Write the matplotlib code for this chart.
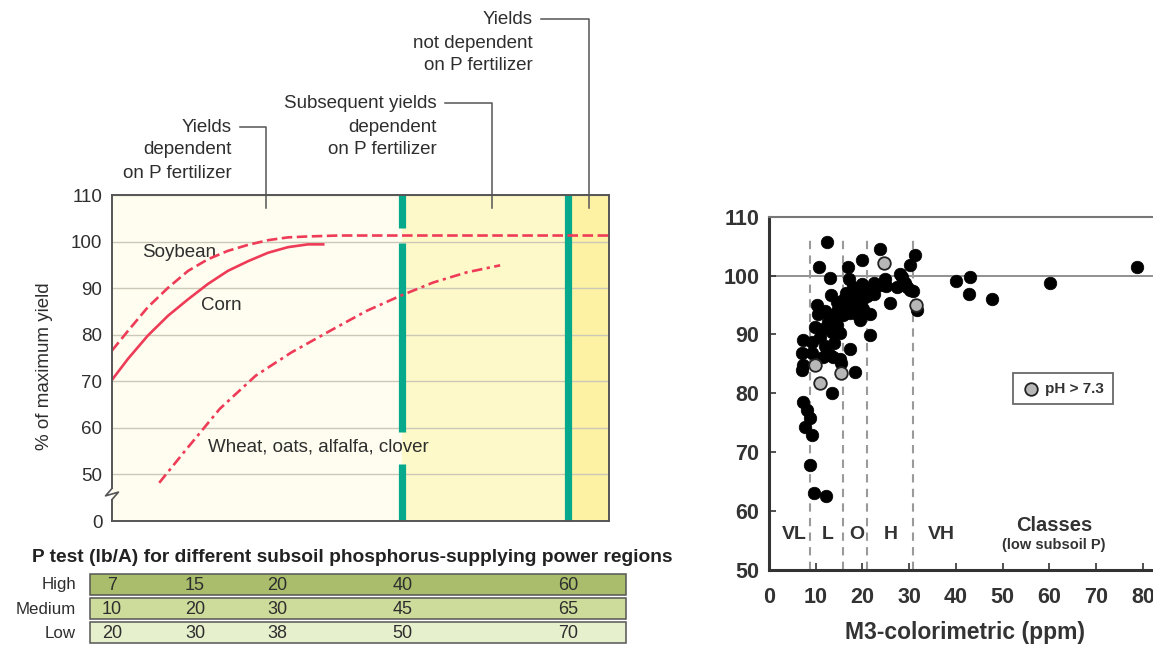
import numpy as np
import matplotlib.pyplot as plt
from matplotlib.patches import Rectangle
from matplotlib.lines import Line2D
from matplotlib.transforms import blended_transform_factory

plt.rcParams['font.family'] = ['Liberation Sans', 'DejaVu Sans']

# --- Left chart: yield response curves (x = relative P test, 0-100) ---
soy_x = [0, 3.2, 7.2, 11.3, 15.3, 19.3, 23.3, 27.4, 31.4, 35.4, 39.4, 45.5, 100]
soy_y = [76.6, 80.8, 85.9, 90.1, 93.7, 96.2, 98.0, 99.3, 100.3, 100.9, 101.1, 101.3, 101.3]

corn_x = [0, 3.2, 7.2, 11.3, 15.3, 19.3, 23.3, 27.4, 31.4, 35.4, 39.4, 42.5]
corn_y = [70.3, 74.8, 79.8, 84.1, 87.6, 90.9, 93.7, 95.8, 97.6, 98.8, 99.4, 99.4]

wheat_x = [9.5, 14.5, 21.7, 28.9, 36.1, 44.5, 51.2, 57.9, 64.6, 71.4, 78.1]
wheat_y = [48.2, 54.8, 64.1, 71.2, 76.2, 81.2, 85.1, 88.3, 91.2, 93.4, 94.9]

region_edges = [0, 58.4, 91.8, 100]
region_colors = ["#fffdef", "#fef9c9", "#fdf2a3"]

yticks_pos = [40, 50, 60, 70, 80, 90, 100, 110]     # 40 stands for the broken "0"
yticks_lab = ["0", "50", "60", "70", "80", "90", "100", "110"]

# --- P test table ---
table_rows = ["High", "Medium", "Low"]
table_vals = [[7, 15, 20, 40, 60],
              [10, 20, 30, 45, 65],
              [20, 30, 38, 50, 70]]
table_cols_x = [0, 16.7, 33.2, 58.4, 91.8]
table_colors = ["#a9bd6c", "#cddb9b", "#e7f0cc"]

# --- Right chart: relative yield vs M3 P ---
black_x = [12.5, 10.8, 13.0, 17.0, 17.2, 19.8, 23.7, 31.2, 30.2, 28.0, 24.8, 23.7, 22.0,
           27.3, 29.1, 30.2, 30.7, 31.6, 25.9, 13.3, 10.2, 15.6, 17.0, 18.4, 19.8, 20.2,
           19.1, 19.5, 17.3, 15.9, 14.5, 12.7, 11.6, 9.8, 13.4, 15.2, 21.6, 7.3, 9.1,
           17.3, 7.0, 9.1, 13.0, 15.2, 7.3, 18.4, 7.0, 13.4, 7.3, 8.1, 8.8, 7.7, 9.1,
           8.8, 9.6, 12.3, 40.1, 43.0, 42.7, 47.6, 60.1, 78.7,
           16.5, 18.0, 21.0, 22.5, 14.5, 18.5, 16.0, 20.5, 28.4, 29.5,
           11.5, 13.7, 15.5, 11.0, 12.0, 14.0, 10.5, 12.0, 14.5, 16.5, 18.0, 20.0,
           22.5, 25.0, 21.5, 14.2]
black_y = [105.7, 101.5, 99.6, 101.5, 99.5, 102.6, 104.5, 103.5, 101.8, 100.2, 99.5, 98.4, 97.8,
           98.1, 98.7, 97.5, 97.3, 94.1, 95.3, 96.7, 95.0, 95.0, 96.1, 95.6, 95.8, 94.4,
           93.3, 92.4, 93.6, 93.3, 91.6, 92.2, 91.0, 91.3, 90.5, 90.2, 89.9, 89.0, 88.8,
           87.6, 86.8, 86.8, 86.5, 85.9, 84.8, 83.7, 84.0, 80.0, 78.6, 77.2, 75.8, 74.3, 72.9,
           67.8, 63.1, 62.6, 99.0, 99.8, 96.8, 96.1, 98.7, 101.5,
           94.5, 94.8, 96.5, 96.8, 94.0, 97.5, 96.0, 97.2, 99.8, 98.1,
           86.2, 86.2, 85.1, 89.5, 88.0, 88.5, 93.5, 94.0, 95.5, 97.0, 98.0, 98.5,
           98.8, 98.2, 93.5, 93.0]
gray_x = [24.5, 31.4, 9.8, 10.9, 15.5]
gray_y = [102.1, 95.0, 84.8, 81.7, 83.5]

class_bounds = [8.8, 15.9, 20.9, 30.9]
class_labels = ["VL", "L", "O", "H", "VH"]
class_label_x = [5.5, 12.6, 18.7, 26.0, 36.9]

W, H = 1153, 647
fig = plt.figure(figsize=(W / 100, H / 100), dpi=100)
TXT = "#2e2e2e"
RED = "#ee3b57"
GREEN = "#06a98b"
FS = 13.5


def fx(px):
    return px / W


def fy(py):
    return 1 - py / H


# ================= left chart =================
ax1 = fig.add_axes([fx(112), fy(521), 497 / W, 326 / H])
ax1.set_xlim(0, 100)
ax1.set_ylim(40, 110)
for i, c in enumerate(region_colors):
    ax1.axvspan(region_edges[i], region_edges[i + 1], color=c, lw=0, zorder=0)

ax1.set_yticks(yticks_pos)
ax1.set_yticklabels(yticks_lab)
ax1.set_xticks([])
ax1.tick_params(axis='y', length=0, pad=7, labelsize=FS, labelcolor=TXT)
ax1.grid(axis='y', color="#cbc8b8", lw=1)
for s in ["top", "right", "bottom"]:
    ax1.spines[s].set_color("#555555")
    ax1.spines[s].set_linewidth(1.4)
ax1.spines["left"].set_visible(False)
# broken left axis
ax1.plot([0, 0], [47.0, 110], color="#555555", lw=1.4, clip_on=False, zorder=5)
ax1.plot([0, 0], [40, 44.6], color="#555555", lw=1.4, clip_on=False, zorder=5)
ax1.plot([0, -1.3, 1.3, 0], [47.0, 45.4, 46.2, 44.6], color="#555555", lw=1.2,
         clip_on=False, zorder=5)

# green dividers (first one with gaps around the labels)
g1 = region_edges[1]
for y0, y1 in [(40, 52.3), (59.1, 99.8), (102.9, 110)]:
    ax1.plot([g1, g1], [y0, y1], color=GREEN, lw=5.2, solid_capstyle='butt', zorder=2)
ax1.plot([region_edges[2]] * 2, [40, 110], color=GREEN, lw=5.2,
         solid_capstyle='butt', zorder=2)

ax1.plot(soy_x, soy_y, color=RED, lw=1.9, ls=(0, (4.0, 1.7)), zorder=4)
ax1.plot(corn_x, corn_y, color=RED, lw=1.9, zorder=4)
ax1.plot(wheat_x, wheat_y, color=RED, lw=1.9, ls=(0, (4.0, 1.7, 1.2, 1.7)), zorder=4)

ax1.text(6.0, 97.6, "Soybean", fontsize=FS, color=TXT, va='center')
ax1.text(18.0, 86.2, "Corn", fontsize=FS, color=TXT, va='center')
ax1.text(19.3, 55.9, "Wheat, oats, alfalfa, clover", fontsize=FS, color=TXT, va='center')

fig.text(fx(45), fy(366), "% of maximum yield", rotation=90, fontsize=FS,
         color=TXT, ha='center', va='center')

# region annotations with leader lines
annots = [
    (["Yields", "dependent", "on P fertilizer"], 232, [127, 150, 173], 240, 266),
    (["Subsequent yields", "dependent", "on P fertilizer"], 437, [103, 127, 150], 445, 492),
    (["Yields", "not dependent", "on P fertilizer"], 533, [19, 43, 65], 541, 589),
]
for lines, xr, ys, lx0, lx1 in annots:
    for t, yy in zip(lines, ys):
        fig.text(fx(xr), fy(yy), t, fontsize=FS, color=TXT, ha='right', va='center')
    fig.add_artist(Line2D([fx(lx0), fx(lx1), fx(lx1)], [fy(ys[0]), fy(ys[0]), fy(208)],
                          color="#555555", lw=1.1, zorder=10))

# table under the left chart
fig.text(fx(352), fy(557), "P test (lb/A) for different subsoil phosphorus-supplying power regions",
         fontsize=13.8, fontweight='bold', color="#222222", ha='center', va='center')
trans = blended_transform_factory(ax1.transData, fig.transFigure)
row_tops = [574, 598, 622]
for r, (name, vals, col) in enumerate(zip(table_rows, table_vals, table_colors)):
    top = row_tops[r]
    fig.add_artist(Rectangle((fx(90), fy(top + 21)), 536 / W, 21 / H, facecolor=col,
                             edgecolor="#555555", lw=1.1, transform=fig.transFigure))
    yc = fy(top + 11)
    fig.text(fx(76), yc, name, fontsize=12.2, color=TXT, ha='right', va='center')
    for xv, v in zip(table_cols_x, vals):
        fig.text(xv, yc, str(v), fontsize=13, color=TXT, ha='center', va='center',
                 transform=trans)

# ================= right chart =================
ax2 = fig.add_axes([fx(769), fy(570), 388 / W, 353.3 / H])
ax2.set_xlim(0, 83)
ax2.set_ylim(50, 110)
ax2.set_xticks(range(0, 90, 10))
ax2.set_yticks(range(50, 120, 10))
ax2.tick_params(direction='in', length=5, width=1.2, labelsize=15.5, colors="#333333")
for lab in ax2.get_xticklabels() + ax2.get_yticklabels():
    lab.set_fontweight('bold')
ax2.tick_params(axis='x', pad=12)
ax2.tick_params(axis='y', pad=7)
ax2.spines["right"].set_visible(False)
ax2.spines["top"].set_color("#777777")
ax2.spines["top"].set_linewidth(1.5)
for s in ["left", "bottom"]:
    ax2.spines[s].set_color("#333333")
    ax2.spines[s].set_linewidth(2.2)

ax2.axhline(100, color="#888888", lw=1.3, zorder=1)
ax2.vlines(class_bounds, 50, 106.3, colors="#9a9a9a", lw=1.5, linestyles=(0, (4, 3)),
           zorder=1)
ax2.scatter(black_x, black_y, s=82, color="black", edgecolor="black", lw=0.5, zorder=3)
gray_pts = ax2.scatter(gray_x, gray_y, s=82, color="#b7b7b7", edgecolor="#222222",
                       lw=1.3, zorder=4, label="pH > 7.3")

for t, xv in zip(class_labels, class_label_x):
    ax2.text(xv, 56.0, t, fontsize=14, fontweight='bold', color="#333333",
             ha='center', va='center')
ax2.text(61.1, 57.5, "Classes", fontsize=14.5, fontweight='bold', color="#333333",
         ha='center', va='center')
ax2.text(61.0, 54.3, "(low subsoil P)", fontsize=10.5, fontweight='bold', color="#333333",
         ha='center', va='center')

leg = ax2.legend(handles=[gray_pts], loc='upper left', bbox_to_anchor=(0.608, 0.578),
                 frameon=True, fancybox=False, edgecolor="#444444", handletextpad=0.3,
                 borderpad=0.55, handlelength=1.3, markerscale=1.0,
                 prop={'size': 11, 'weight': 'bold'})
leg.get_frame().set_linewidth(1.3)
for t in leg.get_texts():
    t.set_color("#333333")

fig.text(fx(965), fy(633), "M3-colorimetric (ppm)", fontsize=16.5, fontweight='bold',
         color="#333333", ha='center', va='center')

fig.savefig("out.png", dpi=100)
